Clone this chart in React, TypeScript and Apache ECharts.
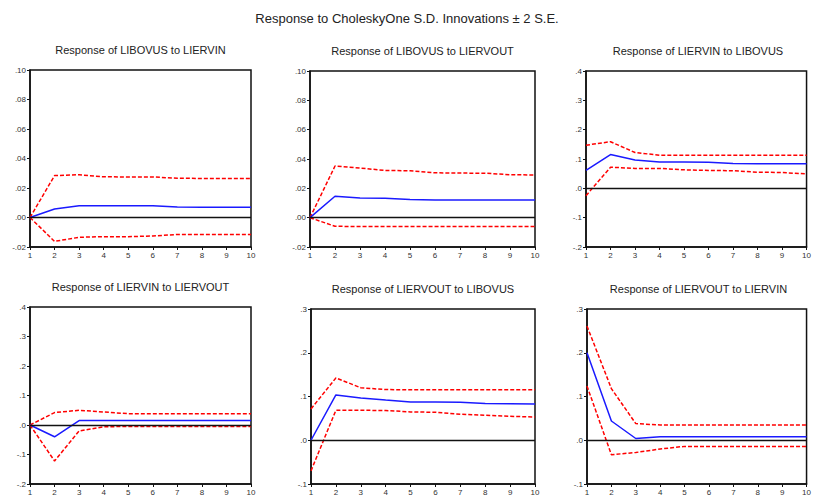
import React, { useEffect, useRef } from "react";
import * as echarts from "echarts";

const periods = [1, 2, 3, 4, 5, 6, 7, 8, 9, 10];

const mainTitle = "Response to CholeskyOne S.D. Innovations ± 2 S.E.";
const panelTitles = [
  "Response of LIBOVUS to LIERVIN",
  "Response of LIBOVUS to LIERVOUT",
  "Response of LIERVIN to LIBOVUS",
  "Response of LIERVIN to LIERVOUT",
  "Response of LIERVOUT to LIBOVUS",
  "Response of LIERVOUT to LIERVIN",
];

// Panel 1: LIBOVUS to LIERVIN
const resp1 = [0, 0.0058, 0.008, 0.008, 0.008, 0.008, 0.0072, 0.0069, 0.0069, 0.0069];
const upper1 = [0, 0.0284, 0.029, 0.0276, 0.0275, 0.0275, 0.0266, 0.0265, 0.0265, 0.0265];
const lower1 = [0, -0.0162, -0.0134, -0.013, -0.013, -0.0125, -0.0115, -0.0115, -0.0115, -0.0115];
// Panel 2: LIBOVUS to LIERVOUT
const resp2 = [0, 0.0146, 0.0134, 0.0132, 0.0124, 0.0121, 0.0121, 0.0121, 0.0121, 0.0121];
const upper2 = [0, 0.0352, 0.0338, 0.0322, 0.032, 0.0306, 0.0304, 0.0303, 0.0293, 0.0291];
const lower2 = [0, -0.0059, -0.006, -0.006, -0.006, -0.006, -0.006, -0.006, -0.006, -0.006];
// Panel 3: LIERVIN to LIBOVUS
const resp3 = [0.061, 0.115, 0.0965, 0.09, 0.09, 0.089, 0.085, 0.084, 0.084, 0.084];
const upper3 = [0.147, 0.159, 0.122, 0.113, 0.113, 0.113, 0.113, 0.113, 0.113, 0.113];
const lower3 = [-0.025, 0.072, 0.068, 0.068, 0.063, 0.061, 0.06, 0.055, 0.054, 0.049];
// Panel 4: LIERVIN to LIERVOUT
const resp4 = [0, -0.04, 0.015, 0.015, 0.015, 0.015, 0.015, 0.015, 0.015, 0.015];
const upper4 = [0, 0.042, 0.05, 0.044, 0.0385, 0.038, 0.038, 0.038, 0.038, 0.038];
const lower4 = [0, -0.122, -0.02, -0.006, -0.005, -0.005, -0.005, -0.005, -0.005, -0.005];
// Panel 5: LIERVOUT to LIBOVUS
const resp5 = [0, 0.1036, 0.0967, 0.092, 0.0876, 0.0875, 0.087, 0.0838, 0.0835, 0.083];
const upper5 = [0.0716, 0.1424, 0.12, 0.1158, 0.1155, 0.1155, 0.1155, 0.1155, 0.1155, 0.1155];
const lower5 = [-0.07, 0.0685, 0.0685, 0.068, 0.0647, 0.064, 0.0594, 0.057, 0.0548, 0.053];
// Panel 6: LIERVOUT to LIERVIN
const resp6 = [0.2, 0.044, 0.004, 0.008, 0.0078, 0.0078, 0.0078, 0.0078, 0.0078, 0.0078];
const upper6 = [0.261, 0.118, 0.038, 0.035, 0.035, 0.035, 0.035, 0.035, 0.035, 0.035];
const lower6 = [0.124, -0.033, -0.028, -0.02, -0.014, -0.014, -0.014, -0.014, -0.014, -0.014];

// y tick labels per panel
const yTicks1 = [-0.02, 0, 0.02, 0.04, 0.06, 0.08, 0.1];
const yTicks2 = [-0.02, 0, 0.02, 0.04, 0.06, 0.08, 0.1];
const yTicks3 = [-0.2, -0.1, 0, 0.1, 0.2, 0.3, 0.4];
const yTicks4 = [-0.2, -0.1, 0, 0.1, 0.2, 0.3, 0.4];
const yTicks5 = [-0.1, 0, 0.1, 0.2, 0.3];
const yTicks6 = [-0.1, 0, 0.1, 0.2, 0.3];

const panels = [
  { resp: resp1, upper: upper1, lower: lower1, ticks: yTicks1, dec: 2 },
  { resp: resp2, upper: upper2, lower: lower2, ticks: yTicks2, dec: 2 },
  { resp: resp3, upper: upper3, lower: lower3, ticks: yTicks3, dec: 1 },
  { resp: resp4, upper: upper4, lower: lower4, ticks: yTicks4, dec: 1 },
  { resp: resp5, upper: upper5, lower: lower5, ticks: yTicks5, dec: 1 },
  { resp: resp6, upper: upper6, lower: lower6, ticks: yTicks6, dec: 1 },
];

// layout (pixels)
const layout = [
  { left: 30, top: 70, width: 221, height: 177 },
  { left: 310, top: 71, width: 225, height: 176 },
  { left: 586, top: 71, width: 224, height: 176 },
  { left: 30, top: 307, width: 221, height: 177 },
  { left: 311, top: 309, width: 224, height: 176 },
  { left: 587, top: 309, width: 223, height: 176 },
];

const FONT = "'Liberation Sans', Arial, sans-serif";

const fmt = (d: number) => (v: number) => {
  const x = Math.abs(v) < 1e-9 ? 0 : v;
  return x.toFixed(d).replace(/^(-?)0\./, "$1.");
};

export default function App() {
  const ref = useRef<HTMLDivElement>(null);
  useEffect(() => {
    if (!ref.current) return;
    const chart = echarts.init(ref.current, undefined, { renderer: "svg" });
    const grid: any[] = [];
    const xAxis: any[] = [];
    const yAxis: any[] = [];
    const series: any[] = [];
    const graphic: any[] = [
      {
        type: "text",
        left: "center",
        top: 12,
        style: { text: mainTitle, font: `13px ${FONT}`, fill: "#222" },
      },
    ];
    panels.forEach((p, i) => {
      const L = layout[i];
      grid.push({
        left: L.left,
        top: L.top,
        width: L.width,
        height: L.height,
        show: true,
        borderColor: "#111",
        borderWidth: 1.5,
        containLabel: false,
      });
      xAxis.push({
        type: "value",
        gridIndex: i,
        min: 1,
        max: 10,
        interval: 1,
        axisLine: { show: true, onZero: false, lineStyle: { color: "#111", width: 1.5 } },
        axisTick: { show: true, length: 3, lineStyle: { color: "#111" } },
        axisLabel: { fontSize: 8, fontFamily: FONT, color: "#333", margin: 4 },
        splitLine: { show: false },
      });
      const step = p.ticks[1] - p.ticks[0];
      yAxis.push({
        type: "value",
        gridIndex: i,
        min: p.ticks[0],
        max: p.ticks[p.ticks.length - 1],
        interval: step,
        axisLine: { show: true, onZero: false, lineStyle: { color: "#111", width: 1.5 } },
        axisTick: { show: true, length: 3, lineStyle: { color: "#111" } },
        axisLabel: { fontSize: 8, fontFamily: FONT, color: "#333", margin: 4, formatter: fmt(p.dec) },
        splitLine: { show: false },
      });
      const mk = (arr: number[]) => periods.map((x, k) => [x, arr[k]]);
      series.push({
        type: "line",
        xAxisIndex: i,
        yAxisIndex: i,
        data: mk(p.upper),
        symbol: "none",
        z: 3,
        lineStyle: { color: "#ff0000", width: 1.5, type: [4, 2] },
      });
      series.push({
        type: "line",
        xAxisIndex: i,
        yAxisIndex: i,
        data: mk(p.lower),
        symbol: "none",
        z: 3,
        lineStyle: { color: "#ff0000", width: 1.5, type: [4, 2] },
      });
      series.push({
        type: "line",
        xAxisIndex: i,
        yAxisIndex: i,
        data: mk(p.resp),
        symbol: "none",
        z: 4,
        lineStyle: { color: "#1a1aff", width: 1.5 },
        markLine: {
          silent: true,
          symbol: ["none", "none"],
          label: { show: false },
          lineStyle: { color: "#111", width: 1.3, type: "solid" },
          data: [{ yAxis: 0 }],
        },
      });
      graphic.push({
        type: "text",
        x: L.left + L.width / 2,
        y: L.top - 20,
        style: {
          text: panelTitles[i],
          font: `11px ${FONT}`,
          fill: "#222",
          textAlign: "center",
          textVerticalAlign: "middle",
        },
      });
    });
    chart.setOption({
      animation: false,
      backgroundColor: "#ffffff",
      grid,
      xAxis,
      yAxis,
      series,
      graphic,
    });
    return () => chart.dispose();
  }, []);
  return (
    <div
      ref={ref}
      style={{ position: "fixed", left: 0, top: 0, width: 814, height: 496, background: "#fff" }}
    />
  );
}
